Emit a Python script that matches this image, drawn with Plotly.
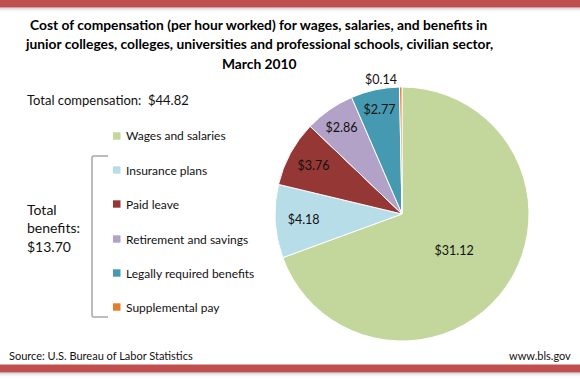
import plotly.graph_objects as go

categories = ["Wages and salaries", "Insurance plans", "Paid leave",
              "Retirement and savings", "Legally required benefits", "Supplemental pay"]
values = [31.12, 4.18, 3.76, 2.86, 2.77, 0.14]
colors = ["#C3D69B", "#B7DEE8", "#953735", "#B3A2C7", "#4599B0", "#E47B2F"]
title_lines = ["Cost of compensation (per hour worked) for wages, salaries, and benefits in",
               "junior colleges, colleges, universities and professional schools, civilian sector,",
               "March 2010"]
total_comp = "Total compensation:  $44.82"
total_benefits = ["Total", "benefits:", "$13.70"]

W, H = 580, 379
FONT = "Lato, 'Open Sans', sans-serif"

def px(x):
    return x / W

def py(y):
    return 1 - y / H

cx, cy, r = 402, 214, 127

fig = go.Figure()
fig.add_trace(go.Pie(
    labels=categories, values=values, sort=False, direction="clockwise", rotation=0,
    marker=dict(colors=colors, line=dict(color="white", width=1)),
    texttemplate="$%{value:.2f}",
    textposition=["inside"] * 5 + ["outside"],
    insidetextorientation="horizontal",
    textfont=dict(family=FONT, size=12.5, color="#111111"),
    domain=dict(x=[px(cx - r), px(cx + r)], y=[py(cy + r), py(cy - r)]),
    showlegend=False, hoverinfo="label+value",
))

shapes = []
ann = []
# bands
shapes.append(dict(type="rect", xref="paper", yref="paper", x0=0, x1=1, y0=py(7.5), y1=1,
                   fillcolor="#C0504D", line=dict(width=0), layer="above"))
shapes.append(dict(type="rect", xref="paper", yref="paper", x0=0, x1=1, y0=py(372.5), y1=py(364.5),
                   fillcolor="#C0504D", line=dict(width=0), layer="above"))
for i, op in enumerate([0.35, 0.22, 0.12, 0.05]):
    shapes.append(dict(type="rect", xref="paper", yref="paper", x0=0, x1=1,
                       y0=py(7.5 + i + 1), y1=py(7.5 + i), fillcolor="#808080", opacity=op,
                       line=dict(width=0)))
    shapes.append(dict(type="rect", xref="paper", yref="paper", x0=0, x1=1,
                       y0=py(372.5 + i + 1), y1=py(372.5 + i), fillcolor="#808080", opacity=op,
                       line=dict(width=0)))

# title
for i, t in enumerate(title_lines):
    ann.append(dict(text="<b>" + t + "</b>", x=px(259), y=py(24 + 19.5 * i), xref="paper", yref="paper",
                    xanchor="center", yanchor="middle", showarrow=False,
                    font=dict(family=FONT, size=13.8, color="#000000")))

ann.append(dict(text=total_comp, x=px(25), y=py(100), xref="paper", yref="paper",
                xanchor="left", yanchor="middle", showarrow=False,
                font=dict(family=FONT, size=13, color="#111111")))
for i, t in enumerate(total_benefits):
    ann.append(dict(text=t, x=px(25), y=py(209 + 18.5 * i), xref="paper", yref="paper",
                    xanchor="left", yanchor="middle", showarrow=False,
                    font=dict(family=FONT, size=14, color="#111111")))

# legend
leg_y = [136, 170, 204, 239, 273, 307]
for cat, col, yy in zip(categories, colors, leg_y):
    shapes.append(dict(type="rect", xref="paper", yref="paper", x0=px(113), x1=px(120.5),
                       y0=py(yy + 3.7), y1=py(yy - 3.7), fillcolor=col, line=dict(width=0)))
    ann.append(dict(text=cat, x=px(124), y=py(yy), xref="paper", yref="paper",
                    xanchor="left", yanchor="middle", showarrow=False,
                    font=dict(family=FONT, size=12, color="#111111")))

# bracket
shapes.append(dict(type="path", xref="paper", yref="paper",
                   path=f"M {px(108)},{py(156)} L {px(94)},{py(156)} Q {px(92)},{py(156)} {px(92)},{py(158)} "
                        f"L {px(92)},{py(315)} Q {px(92)},{py(317)} {px(94)},{py(317)} L {px(108)},{py(317)}",
                   line=dict(color="#A6A6A6", width=1.5)))

# footer
ann.append(dict(text="Source: U.S. Bureau of Labor Statistics", x=px(7), y=py(355), xref="paper", yref="paper",
                xanchor="left", yanchor="middle", showarrow=False,
                font=dict(family=FONT, size=11, color="#111111")))
ann.append(dict(text="www.bls.gov", x=px(573), y=py(355), xref="paper", yref="paper",
                xanchor="right", yanchor="middle", showarrow=False,
                font=dict(family=FONT, size=11, color="#111111")))

fig.update_layout(width=W, height=H, margin=dict(l=0, r=0, t=0, b=0),
                  paper_bgcolor="white", plot_bgcolor="white",
                  shapes=shapes, annotations=ann, font=dict(family=FONT))
fig.write_html("out.html", config={"displayModeBar": False},
               post_script="document.body.style.margin='0';document.body.style.overflow='hidden';")
